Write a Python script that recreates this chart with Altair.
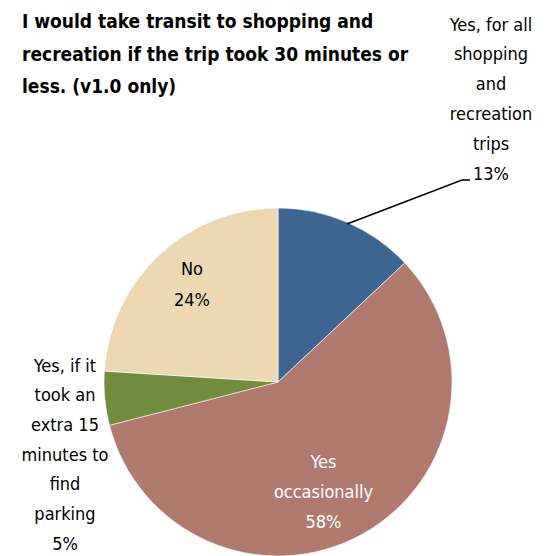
import altair as alt
import pandas as pd

# ---------------- data ----------------
title_lines = [
    "I would take transit to shopping and",
    "recreation if the trip took 30 minutes or",
    "less.  (v1.0 only)",
]
categories = [
    "Yes, for all shopping and recreation trips",
    "Yes occasionally",
    "Yes, if it took an extra 15 minutes to find parking",
    "No",
]
values = [13, 58, 5, 24]
label_lines = [
    ["Yes, for all", "shopping", "and", "recreation", "trips"],
    ["Yes", "occasionally"],
    ["Yes, if it", "took an", "extra 15", "minutes to", "find", "parking"],
    ["No"],
]

# ---------------- style / layout ----------------
colors = ["#3d6592", "#b07b6e", "#718c3d", "#ecd9b4"]
FONT = "Liberation Sans Narrow, Noto Sans Condensed, DejaVu Sans Condensed, Roboto Condensed, Open Sans Condensed, Roboto"
W, H = 530, 548
CX, CY, R = 270, 374, 174
LABEL_FS = 18
TITLE_FS = 19
label_x = [483, 315.5, 57, 184]
label_y = [17.6, 454.6, 358.6, 261.6]   # first-line positions
label_color = ["black", "white", "black", "black"]
label_lh = [29.8, 30, 29.7, 31.5]
leader_x = [339, 454, 462]
leader_y = [216, 172, 172]

pie_df = pd.DataFrame({"category": categories, "value": values, "order": list(range(len(values)))})

pie = alt.Chart(pie_df).mark_arc(outerRadius=R, stroke="white", strokeWidth=0.6).encode(
    theta=alt.Theta("value:Q", stack=True),
    color=alt.Color("category:N", scale=alt.Scale(domain=categories, range=colors), legend=None),
    order=alt.Order("order:Q"),
    x=alt.value(CX),
    y=alt.value(CY),
)

layers = [pie]

for i, (lines, v) in enumerate(zip(label_lines, values)):
    df = pd.DataFrame({"text": ["\n".join(lines + [f"{v}%"])], "x": [label_x[i]], "y": [label_y[i]]})
    layers.append(
        alt.Chart(df).mark_text(
            lineBreak="\n", lineHeight=label_lh[i], fontSize=LABEL_FS, font=FONT,
            color=label_color[i], align="center", baseline="middle",
        ).encode(
            x=alt.X("x:Q", scale=None, axis=None),
            y=alt.Y("y:Q", scale=None, axis=None),
            text="text:N",
        )
    )

title_df = pd.DataFrame({"text": ["\n".join(title_lines)], "x": [14], "y": [14.3]})
layers.append(
    alt.Chart(title_df).mark_text(
        lineBreak="\n", lineHeight=32.5, fontSize=TITLE_FS, font=FONT, fontWeight="bold",
        color="black", align="left", baseline="middle",
    ).encode(
        x=alt.X("x:Q", scale=None, axis=None),
        y=alt.Y("y:Q", scale=None, axis=None),
        text="text:N",
    )
)

leader_df = pd.DataFrame({"x": leader_x, "y": leader_y, "o": [0, 1, 2]})
layers.append(
    alt.Chart(leader_df).mark_line(color="black", strokeWidth=1.5).encode(
        x=alt.X("x:Q", scale=None, axis=None),
        y=alt.Y("y:Q", scale=None, axis=None),
        order="o:Q",
    )
)

chart = alt.layer(*layers).properties(
    width=W, height=H, padding=0, autosize="none"
).configure_view(stroke=None)

chart.save("out.html", embed_options={"renderer": "svg", "actions": False})
